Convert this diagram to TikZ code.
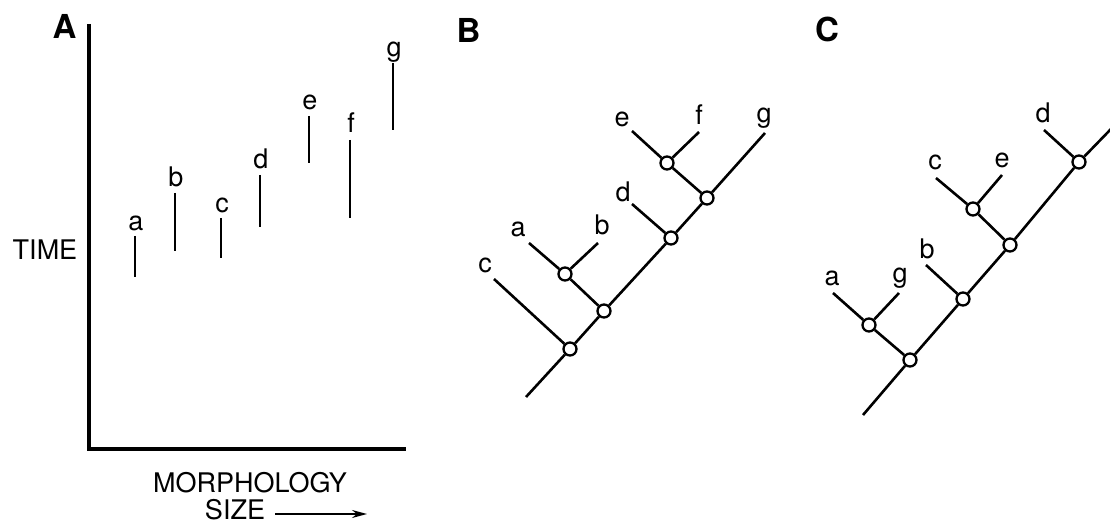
\documentclass[tikz,border=0pt]{standalone}
\usepackage{fontspec}
\setmainfont{TeX Gyre Heros}
\usetikzlibrary{arrows.meta}
\begin{document}
\begin{tikzpicture}[x=1pt,y=-1pt,
  panelstyle/.style={font=\fontsize{33}{33}\selectfont\bfseries, inner sep=0pt, anchor=base},
  capsstyle/.style={font=\fontsize{27}{27}\selectfont, inner sep=0pt},
  lblstyle/.style={font=\fontsize{27}{27}\selectfont, inner sep=0pt, anchor=base},
  axisline/.style={line width=3.4pt},
  rangeline/.style={line width=2.6pt},
  branchline/.style={line width=2.6pt},
  nodecirc/.style={circle, draw, line width=2.3pt, fill=white, inner sep=0pt, minimum size=13pt}]
\useasboundingbox (0,0) rectangle (1110,526);
\clip (0,0) rectangle (1110,526);
% ---------- Panel A ----------
\node[panelstyle] (A) at (64.5,39) {A};
\coordinate (ytop) at (89,24);
\coordinate (orig) at (89,449);
\coordinate (xend) at (406,449);
\draw[axisline] (ytop) -- (orig) -- (xend);
\node[capsstyle] (time) at (45,250) {TIME};
\node[capsstyle] (morph) at (250,483) {MORPHOLOGY};
\node[capsstyle] (size) at (235,510) {SIZE};
\coordinate (arrEnd) at (367,514);
\draw[line width=1.5pt, -{Stealth[length=15pt,width=8pt]}] ([xshift=10pt]size.east |- arrEnd) -- (arrEnd);
% ranges
\foreach \n/\x/\t/\b/\ly in {a/135/236/277/231, b/175/193/251/187, c/221/218/258/213, d/260/175/227/169, e/309/116/163/110, f/350/140/218/133, g/393/63/130/57}{
  \coordinate (A\n t) at (\x,\t);
  \coordinate (A\n b) at (\x,\b);
  \draw[rangeline] (A\n t) -- (A\n b);
  \node[lblstyle] (AL\n) at (\x+1,\ly) {\n};
}
% ---------- Panel B ----------
\node[panelstyle] (B) at (468.5,43) {B};
\coordinate (Broot) at (526,397);
\node[nodecirc] (B1) at (570,349) {};
\node[nodecirc] (B2) at (604,311) {};
\node[nodecirc] (Bab) at (565,274) {};
\node[nodecirc] (Bd) at (671,238) {};
\node[nodecirc] (Bg) at (707,198) {};
\node[nodecirc] (Bef) at (667,163) {};
\coordinate (Bc) at (494,279);
\coordinate (Ba) at (529,243);
\coordinate (Bb) at (598,243);
\coordinate (Bdl) at (632,204);
\coordinate (Be) at (632,131);
\coordinate (Bf) at (699,132);
\coordinate (Bgl) at (765,133);
\draw[branchline] (Broot) -- (B1);
\draw[branchline] (B1) -- (B2);
\draw[branchline] (B2) -- (Bd);
\draw[branchline] (Bd) -- (Bg);
\draw[branchline] (Bg) -- (Bgl);
\draw[branchline] (B1) -- (Bc);
\draw[branchline] (B2) -- (Bab);
\draw[branchline] (Bab) -- (Ba);
\draw[branchline] (Bab) -- (Bb);
\draw[branchline] (Bd) -- (Bdl);
\draw[branchline] (Bg) -- (Bef);
\draw[branchline] (Bef) -- (Be);
\draw[branchline] (Bef) -- (Bf);
\node[lblstyle] (BLc) at (485,273) {c};
\node[lblstyle] (BLa) at (518,237) {a};
\node[lblstyle] (BLb) at (602,235) {b};
\node[lblstyle] (BLd) at (623,202) {d};
\node[lblstyle] (BLe) at (622,127) {e};
\node[lblstyle] (BLf) at (699,125) {f};
\node[lblstyle] (BLg) at (764,123) {g};
% ---------- Panel C ----------
\node[panelstyle] (C) at (827,42) {C};
\coordinate (Croot) at (863,415);
\node[nodecirc] (C1) at (910,360) {};
\node[nodecirc] (Cag) at (869,325) {};
\node[nodecirc] (Cb) at (963,299) {};
\node[nodecirc] (C2) at (1010,245) {};
\node[nodecirc] (Cce) at (973,209) {};
\node[nodecirc] (Cd) at (1079,162) {};
\coordinate (Ca) at (833,293);
\coordinate (Cg) at (899,293);
\coordinate (Cbl) at (926,265);
\coordinate (Cc) at (936,178);
\coordinate (Ce) at (1002,175);
\coordinate (Cdl) at (1044,130);
\coordinate (Cf) at (1111,129);
\draw[branchline] (Croot) -- (C1);
\draw[branchline] (C1) -- (Cb);
\draw[branchline] (Cb) -- (C2);
\draw[branchline] (C2) -- (Cd);
\draw[branchline] (Cd) -- (Cf);
\draw[branchline] (C1) -- (Cag);
\draw[branchline] (Cag) -- (Ca);
\draw[branchline] (Cag) -- (Cg);
\draw[branchline] (Cb) -- (Cbl);
\draw[branchline] (C2) -- (Cce);
\draw[branchline] (Cce) -- (Cc);
\draw[branchline] (Cce) -- (Ce);
\draw[branchline] (Cd) -- (Cdl);
\node[lblstyle] (CLa) at (832,286) {a};
\node[lblstyle] (CLg) at (900,283) {g};
\node[lblstyle] (CLb) at (927,259) {b};
\node[lblstyle] (CLc) at (935,170) {c};
\node[lblstyle] (CLe) at (1002,168) {e};
\node[lblstyle] (CLd) at (1043,123) {d};
\node[lblstyle] (CLf) at (1114,123) {f};
\end{tikzpicture}
\end{document}
